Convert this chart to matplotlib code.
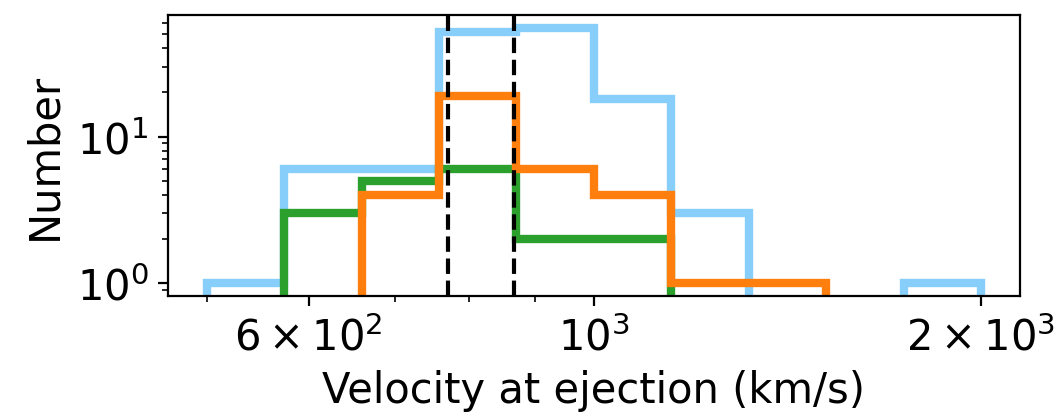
import numpy as np
import matplotlib
matplotlib.use("Agg")
import matplotlib.pyplot as plt

# log-spaced bin edges, 10 bins from 500 to 2000 km/s
v_min, v_max, n_bins = 500, 2000, 10
edges = np.logspace(np.log10(v_min), np.log10(v_max), n_bins + 1)

# counts per bin
counts_blue = [1, 6, 6, 52, 55, 18, 3, 0, 0, 1]
counts_green = [0, 3, 5, 6, 2, 2, 0, 0, 0, 0]
counts_orange = [0, 0, 4, 19, 6, 4, 1, 1, 0, 0]

# dashed reference velocities
v_lines = [770, 866]

fig = plt.figure(figsize=(5.295, 2.07), dpi=200)
ax = fig.add_axes([0.1586, 0.282, 0.963 - 0.1586, 0.962 - 0.282])

centers = np.sqrt(edges[:-1] * edges[1:])
for counts, col in [(counts_blue, '#87cefa'),
                    (counts_green, '#2ca02c'),
                    (counts_orange, '#ff7f0e')]:
    ax.hist(centers, bins=edges, weights=counts, histtype='step',
            color=col, lw=3, log=True)

for v in v_lines:
    ax.axvline(v, color='k', ls='--', lw=1.5)

ax.set_xscale('log')
ax.set_xlim(v_min / (v_max / v_min) ** 0.05, v_max * (v_max / v_min) ** 0.05)
ax.set_ylim(0.815, 67.8)

ax.set_xticks([600, 1000, 2000])
ax.set_xticklabels([r'$6\times10^{2}$', r'$10^{3}$', r'$2\times10^{3}$'])
ax.tick_params(labelsize=15)
ax.set_xlabel('Velocity at ejection (km/s)', fontsize=15)
ax.set_ylabel('Number', fontsize=15)

fig.savefig('out.png', dpi=200)
